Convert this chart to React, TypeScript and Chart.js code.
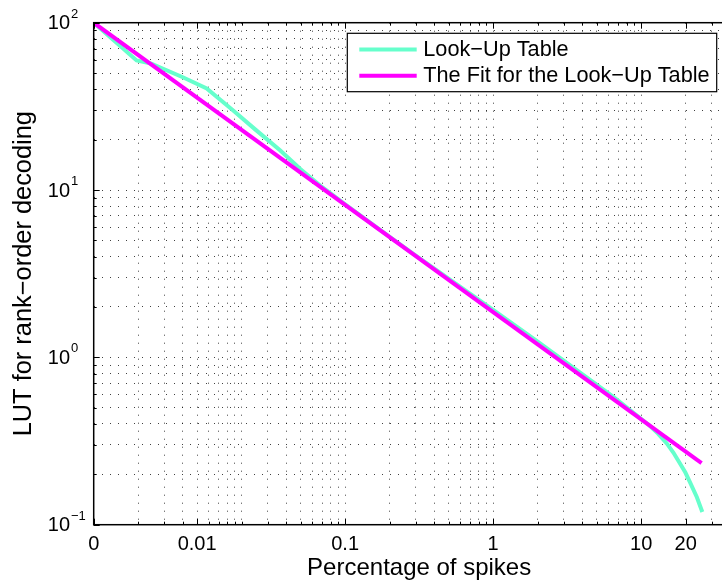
import { useEffect, useRef } from "react";
import { Chart, registerables } from "chart.js";

Chart.register(...registerables);

// Look-up table: percentage of spikes -> LUT value for rank-order decoding
const lutPercent = [
  0.002, 0.0039, 0.0049, 0.008, 0.0116, 0.0172, 0.025, 0.0363, 0.05, 0.07, 0.1,
  0.2, 0.3, 0.5, 1, 2, 4.06, 6.49, 11.43, 13.0, 14.9, 16.5, 18.3, 19.9, 21.4, 23.8, 25.9,
];
const lutValue = [
  100, 59.5, 57, 47.2, 40.5, 30.3, 22.8, 17.3, 13.3, 10.4, 8.2,
  5.25, 4.05, 2.95, 1.92, 1.24, 0.785, 0.58, 0.39, 0.35, 0.306, 0.27, 0.232, 0.205, 0.179, 0.146, 0.119,
];

// Power-law fit of the table (a straight line on log-log axes)
const fitPercent = [0.002, 25.6];
const fitValue = [100, 0.233];

const seriesNames = ["Look\u2212Up Table", "The Fit for the Look\u2212Up Table"];
const seriesColors = ["#66FFCC", "#FF00FF"];

// Axis limits
const xMin = 0.002;
const xMax = 50;
const yMin = 0.1;
const yMax = 100;

// Labelled x ticks
const xTickValues = [0.002, 0.01, 0.1, 1, 10, 20];
const xTickLabels = ["0", "0.01", "0.1", "1", "10", "20"];

// Dotted x grid positions
const xGridValues = [
  0.002, 0.004, 0.006, 0.008, 0.01, 0.012, 0.014, 0.016, 0.018,
  0.02, 0.03, 0.04, 0.05, 0.06, 0.07, 0.08, 0.09,
  0.1, 0.2, 0.3, 0.4, 0.5, 0.6, 0.7, 0.8, 0.9,
  1, 2, 3, 4, 5, 6, 7, 8, 9, 10, 20, 30, 40, 50,
];

// y decades with their exponents, plus the minor grid
const yDecades = [0.1, 1, 10, 100];
const yExponents = ["\u22121", "0", "1", "2"];
const yGridValues = [
  0.1, 0.2, 0.3, 0.4, 0.5, 0.6, 0.7, 0.8, 0.9,
  1, 2, 3, 4, 5, 6, 7, 8, 9,
  10, 20, 30, 40, 50, 60, 70, 80, 90, 100,
];

const FONT = '"Liberation Sans", Arial, Helvetica, sans-serif';

const near = (a: number, b: number) => Math.abs(a - b) / b < 1e-6;

// Box, inward tick marks, power-of-ten y labels and the legend
const framePlugin = {
  id: "frame",
  afterDraw(chart: any) {
    const { ctx, chartArea: a, scales } = chart;
    const xs = scales.x;
    const ys = scales.y;
    ctx.save();

    ctx.strokeStyle = "#000";
    ctx.lineWidth = 1;
    const seg = (x1: number, y1: number, x2: number, y2: number) => {
      ctx.beginPath();
      ctx.moveTo(x1, y1);
      ctx.lineTo(x2, y2);
      ctx.stroke();
    };
    xGridValues.forEach((v) => {
      const px = Math.round(xs.getPixelForValue(v)) + 0.5;
      const len = xTickValues.some((t) => near(v, t)) ? 6 : 3;
      seg(px, a.bottom, px, a.bottom - len);
      seg(px, a.top, px, a.top + len);
    });
    yGridValues.forEach((v) => {
      const py = Math.round(ys.getPixelForValue(v)) + 0.5;
      const len = yDecades.some((t) => near(v, t)) ? 6 : 3;
      seg(a.left, py, a.left + len, py);
      seg(a.right, py, a.right - len, py);
    });

    ctx.lineWidth = 1.5;
    ctx.strokeRect(a.left, a.top, a.right - a.left, a.bottom - a.top);

    // 10^n labels
    ctx.fillStyle = "#000";
    ctx.textBaseline = "middle";
    yDecades.forEach((v, i) => {
      const py = ys.getPixelForValue(v);
      ctx.font = `20px ${FONT}`;
      ctx.textAlign = "right";
      ctx.fillText("10", a.left - 23.7, py + 1);
      ctx.font = `13px ${FONT}`;
      ctx.textAlign = "left";
      ctx.fillText(yExponents[i], a.left - 22.7, py - 8.5);
    });

    // legend
    const boxRight = a.right - 27.9;
    const boxLeft = boxRight - 369.4;
    const boxTop = a.top + 10.6;
    const boxH = 58.4;
    ctx.fillStyle = "#fff";
    ctx.fillRect(boxLeft, boxTop, boxRight - boxLeft, boxH);
    ctx.strokeStyle = "#000";
    ctx.lineWidth = 1.2;
    ctx.strokeRect(boxLeft, boxTop, boxRight - boxLeft, boxH);
    const rows = [boxTop + 16.2, boxTop + 42.5];
    chart.data.datasets.forEach((ds: any, i: number) => {
      ctx.strokeStyle = ds.borderColor;
      ctx.lineWidth = 4;
      seg(boxLeft + 12, rows[i], boxLeft + 69.4, rows[i]);
      ctx.fillStyle = "#000";
      ctx.font = `21.7px ${FONT}`;
      ctx.textAlign = "left";
      ctx.textBaseline = "middle";
      ctx.fillText(ds.label, boxLeft + 76, rows[i] + 0.6);
    });

    ctx.restore();
  },
};

export default function App() {
  const canvasRef = useRef<HTMLCanvasElement | null>(null);

  useEffect(() => {
    const canvas = canvasRef.current;
    if (!canvas) return;

    const lutPoints = lutPercent.map((x, i) => ({ x, y: lutValue[i] }));
    const fitPoints = fitPercent.map((x, i) => ({ x, y: fitValue[i] }));

    const chart = new Chart(canvas, {
      type: "line",
      data: {
        datasets: [
          {
            label: seriesNames[0],
            data: lutPoints,
            borderColor: seriesColors[0],
            backgroundColor: seriesColors[0],
            borderWidth: 4,
            pointRadius: 0,
            tension: 0,
            fill: false,
            order: 2,
          },
          {
            label: seriesNames[1],
            data: fitPoints,
            borderColor: seriesColors[1],
            backgroundColor: seriesColors[1],
            borderWidth: 4,
            pointRadius: 0,
            tension: 0,
            fill: false,
            order: 1,
          },
        ],
      },
      options: {
        responsive: false,
        animation: false,
        devicePixelRatio: 1,
        layout: { padding: { top: 22.7, right: 25.4, bottom: 0, left: 0 } },
        plugins: {
          legend: { display: false },
          tooltip: { enabled: false },
        },
        scales: {
          x: {
            type: "logarithmic",
            min: xMin,
            max: xMax,
            afterBuildTicks: (scale: any) => {
              scale.ticks = xGridValues.map((value) => ({ value }));
            },
            afterFit: (scale: any) => {
              scale.height = 61.3;
            },
            ticks: {
              autoSkip: false,
              maxRotation: 0,
              padding: 7.5,
              color: "#000",
              font: { family: FONT, size: 20 },
              callback: (value: any) => {
                const i = xTickValues.findIndex((t) => near(Number(value), t));
                return i >= 0 ? xTickLabels[i] : "";
              },
            },
            grid: { color: "rgba(0,0,0,0.75)", lineWidth: 1, drawTicks: false },
            border: { display: false, dash: [1, 7] },
            title: {
              display: true,
              text: "Percentage of spikes",
              color: "#000",
              font: { family: FONT, size: 24 },
              padding: { top: 0, bottom: 3 },
            },
          },
          y: {
            type: "logarithmic",
            min: yMin,
            max: yMax,
            afterBuildTicks: (scale: any) => {
              scale.ticks = yGridValues.map((value) => ({ value }));
            },
            afterFit: (scale: any) => {
              scale.width = 93.7;
            },
            ticks: { display: false },
            grid: { color: "rgba(0,0,0,0.75)", lineWidth: 1, drawTicks: false },
            border: { display: false, dash: [1, 7] },
            title: {
              display: true,
              text: "LUT for rank\u2212order decoding",
              color: "#000",
              font: { family: FONT, size: 25.4 },
              padding: { top: 9, bottom: 0 },
            },
          },
        },
      },
      plugins: [framePlugin],
    });

    return () => chart.destroy();
  }, []);

  return (
    <div
      style={{
        position: "fixed",
        left: 0,
        top: 0,
        width: 722,
        height: 586,
        overflow: "hidden",
        background: "#fff",
      }}
    >
      <canvas ref={canvasRef} width={770} height={586} style={{ display: "block" }} />
    </div>
  );
}
